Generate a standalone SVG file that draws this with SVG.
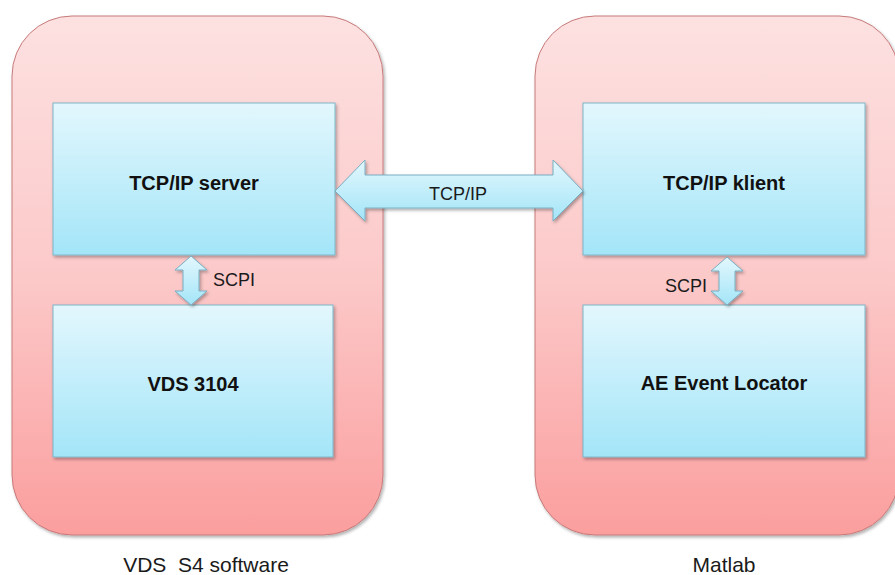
<svg xmlns="http://www.w3.org/2000/svg" width="895" height="575" viewBox="0 0 895 575">
<defs>
<linearGradient id="gPink" x1="0" y1="0" x2="0" y2="1">
<stop offset="0" stop-color="#fde1e1"/>
<stop offset="0.5" stop-color="#fcc9c9"/>
<stop offset="1" stop-color="#fb9e9e"/>
</linearGradient>
<linearGradient id="gBlue" x1="0" y1="0" x2="0" y2="1">
<stop offset="0" stop-color="#e3f7fd"/>
<stop offset="1" stop-color="#a3e5f8"/>
</linearGradient>
<filter id="sh" x="-10%" y="-10%" width="120%" height="120%">
<feDropShadow dx="1.5" dy="2" stdDeviation="1.5" flood-color="#000" flood-opacity="0.3"/>
</filter>
</defs>
<style>
.cont{fill:url(#gPink);stroke:#c77a7a;stroke-width:1}
.box{fill:url(#gBlue);stroke:#7fb6c8;stroke-width:1}
.arr{fill:url(#gBlue);stroke:#79aec2;stroke-width:1}
.lbl{font-family:"Liberation Sans",Arial,sans-serif;font-weight:bold;font-size:20px;fill:#111;text-anchor:middle}
.t{font-family:"Liberation Sans",Arial,sans-serif;font-size:18px;fill:#1a1a1a}
.cap{font-family:"Liberation Sans",Arial,sans-serif;font-size:21px;fill:#1a1a1a;text-anchor:middle;white-space:pre}
</style>
<g id="container-vds">
<rect class="cont" x="12" y="16" width="371" height="519" rx="60" ry="60" filter="url(#sh)"/>
<text class="cap" x="206" y="572" xml:space="preserve">VDS  S4 software</text>
</g>
<g id="container-matlab">
<rect class="cont" x="535" y="16" width="364" height="519" rx="60" ry="60" filter="url(#sh)"/>
<text class="cap" x="724" y="572">Matlab</text>
</g>
<g id="node-tcpip-server">
<rect class="box" x="53" y="103" width="282" height="152" filter="url(#sh)"/>
<text class="lbl" x="194" y="190">TCP/IP server</text>
</g>
<g id="node-vds3104">
<rect class="box" x="53" y="305" width="280" height="152" filter="url(#sh)"/>
<text class="lbl" x="193" y="391">VDS 3104</text>
</g>
<g id="node-tcpip-klient">
<rect class="box" x="583" y="103" width="282" height="152" filter="url(#sh)"/>
<text class="lbl" x="724" y="190">TCP/IP klient</text>
</g>
<g id="node-ae-event-locator">
<rect class="box" x="583" y="305" width="282" height="152" filter="url(#sh)"/>
<text class="lbl" x="724" y="390">AE Event Locator</text>
</g>
<g id="connectors">
<path class="arr" filter="url(#sh)" d="M335,191 L365,160 L365,175 L553,175 L553,160 L583,191 L553,221 L553,208 L365,208 L365,221 Z"/>
<text class="t" x="458" y="200" text-anchor="middle">TCP/IP</text>
<path class="arr" filter="url(#sh)" d="M191,256 L207,270 L199,270 L199,291 L207,291 L191,305 L175,291 L183,291 L183,270 L175,270 Z"/>
<text class="t" x="213" y="286">SCPI</text>
<path class="arr" filter="url(#sh)" d="M727,257 L743,271 L735,271 L735,291 L743,291 L727,305 L711,291 L719,291 L719,271 L711,271 Z"/>
<text class="t" x="665" y="292">SCPI</text>
</g>
</svg>
